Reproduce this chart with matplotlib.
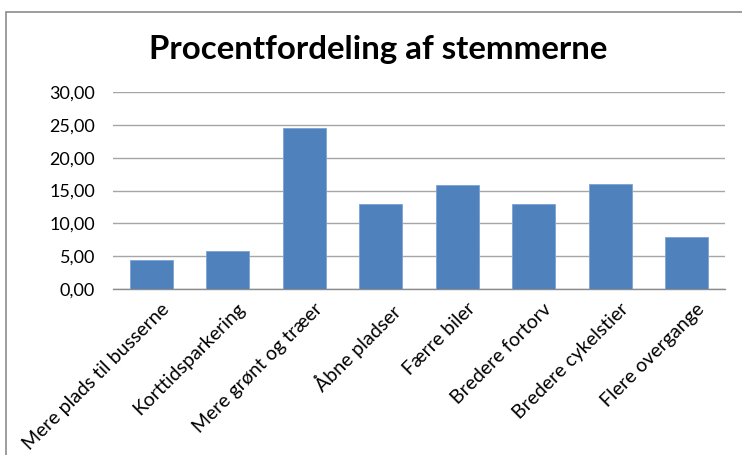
import matplotlib
matplotlib.use("Agg")
import matplotlib.pyplot as plt
from matplotlib.patches import Rectangle
from matplotlib.ticker import FuncFormatter
from matplotlib.transforms import ScaledTranslation

categories = ["Mere plads til busserne", "Korttidsparkering", "Mere grønt og træer",
              "Åbne pladser", "Færre biler", "Bredere fortorv",
              "Bredere cykelstier", "Flere overgange"]
values = [4.47, 5.84, 24.57, 12.94, 15.79, 12.94, 15.94, 7.87]
yticks = [0, 5, 10, 15, 20, 25, 30]
title = "Procentfordeling af stemmerne"

plt.rcParams['font.family'] = ['Lato', 'DejaVu Sans']

W, H = 742, 455
fig = plt.figure(figsize=(W / 100, H / 100), dpi=100)
ax = fig.add_axes([113 / W, 1 - 289 / H, (725 - 113) / W, (289 - 92) / H])

x = list(range(len(categories)))
ax.bar(x, values, width=0.56, color="#4F81BD", edgecolor="#7DA3D3", linewidth=0.6, zorder=3)
ax.set_xlim(-0.5, len(categories) - 0.5)
ax.set_ylim(0, 30)
ax.set_yticks(yticks)
ax.yaxis.set_major_formatter(FuncFormatter(lambda v, p: f"{v:.2f}".replace(".", ",")))
ax.grid(axis="y", color="#A6A6A6", linewidth=1.0, zorder=0)
for s in ["top", "right", "left"]:
    ax.spines[s].set_visible(False)
ax.spines["bottom"].set_color("#8C8C8C")
ax.spines["bottom"].set_linewidth(1.0)
ax.tick_params(axis="y", length=0, labelsize=13, pad=13)
ax.tick_params(axis="x", length=0, pad=8)
ax.set_xticks(x)
ax.set_xticklabels(categories, rotation=45, ha="right", rotation_mode="anchor", fontsize=14)
for lbl in ax.get_xticklabels():
    lbl.set_transform(lbl.get_transform() + ScaledTranslation(0.09, 0, fig.dpi_scale_trans))

fig.text(378 / W, 1 - 49 / H, title, ha="center", va="center", fontsize=23.8, fontweight="bold")

fig.patches.append(Rectangle((6 / W, -0.1), 1.2, 1 - 12 / H + 0.1, transform=fig.transFigure,
                             fill=False, edgecolor="#8C8C8C", linewidth=1.2))

fig.savefig("out.png", dpi=100)
